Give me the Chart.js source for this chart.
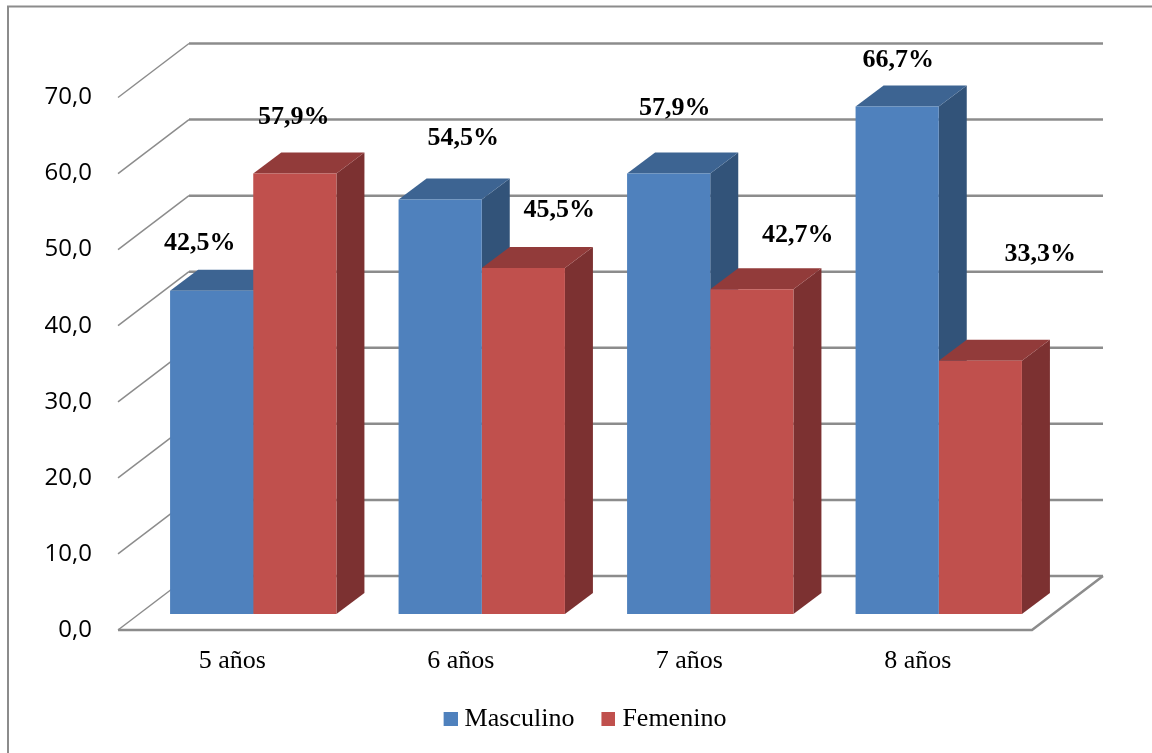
<!DOCTYPE html>
<html>
<head>
<meta charset="utf-8">
<script src="https://cdn.jsdelivr.net/npm/chart.js@4"></script>
<style>
    html, body { margin: 0; padding: 0; background: #FFFFFF; }
    #edades { display: block; }
</style>
</head>
<body>
<div style="width:1152px;height:753px;overflow:hidden">
    <canvas id="edades" width="1152" height="753"></canvas>
</div>
<script>
const categories = ['5 años', '6 años', '7 años', '8 años'];
const masculino = [42.5, 54.5, 57.9, 66.7];
const femenino = [57.9, 45.5, 42.7, 33.3];
const yTickLabels = ['0,0', '10,0', '20,0', '30,0', '40,0', '50,0', '60,0', '70,0'];

// label nudges from the top centre of each bar, the labels were placed by hand
const masculinoNudge = [[-12, -47], [23, -61], [6, -65], [1, -46]];
const femeninoNudge = [[-1, -56], [36, -58], [46, -54], [60, -106]];

const SERIF = '"Liberation Serif", "Times New Roman", serif';
const WALL = { dx: 71, dy: -54 };     // depth of the floor and side wall
const BAR_DEPTH = { dx: 28, dy: -21 };
const BAR_SHIFT = { dx: 21, dy: -16 }; // bars stand in the middle of the floor
const LINE = '#8C8C8C';

const shades = [
    { top: '#3D6492', side: '#325379' },
    { top: '#923B3A', side: '#7C3131' }
];

function poly(ctx, pts, color) {
    ctx.fillStyle = color;
    ctx.beginPath();
    pts.forEach((p, i) => i ? ctx.lineTo(p[0], p[1]) : ctx.moveTo(p[0], p[1]));
    ctx.closePath();
    ctx.fill();
}

function stroke(ctx, pts, width) {
    ctx.strokeStyle = LINE;
    ctx.lineWidth = width;
    ctx.beginPath();
    pts.forEach((p, i) => i ? ctx.lineTo(p[0], p[1]) : ctx.moveTo(p[0], p[1]));
    ctx.stroke();
}

// legend swatch, the extra blank width pulls the square closer to its text
function swatch(color) {
    const c = document.createElement('canvas');
    c.width = 26;
    c.height = 14;
    const g = c.getContext('2d');
    g.fillStyle = color;
    g.fillRect(12, 0, 14, 14);
    return c;
}

const bars3d = {
    id: 'bars3d',
    beforeDraw(chart) {
        const ctx = chart.ctx;
        stroke(ctx, [[8, 753], [8, 6.5], [1152, 6.5]], 2);
    },
    afterLayout(chart) {
        // the right padding keeps room for the floor depth, recentre the legend
        chart.legend.left += 132;
    },
    beforeDatasetsDraw(chart) {
        const ctx = chart.ctx;
        const { left, right } = chart.chartArea;
        const yScale = chart.scales.y;

        // side wall and back wall lines
        ctx.save();
        yScale.ticks.forEach((t) => {
            const y = yScale.getPixelForValue(t.value);
            stroke(ctx, [[left, y], [left + WALL.dx, y + WALL.dy]], 1.5);
            stroke(ctx, [[left + WALL.dx, y + WALL.dy], [right + WALL.dx, y + WALL.dy]], 2.5);
        });
        const y0 = yScale.getPixelForValue(0);
        stroke(ctx, [[left, y0], [right, y0], [right + WALL.dx, y0 + WALL.dy]], 2.5);
        ctx.restore();

        ctx.save();
        ctx.translate(BAR_SHIFT.dx, BAR_SHIFT.dy);

        // tops and sides first, masculino before femenino, the fronts go over them
        chart.data.datasets.forEach((ds, i) => {
            chart.getDatasetMeta(i).data.forEach((bar) => {
                const p = bar.getProps(['x', 'y', 'base', 'width'], true);
                const l = p.x - p.width / 2;
                const r = p.x + p.width / 2;
                const d = BAR_DEPTH;
                poly(ctx, [[r, p.y], [r + d.dx, p.y + d.dy], [r + d.dx, p.base + d.dy], [r, p.base]], shades[i].side);
                poly(ctx, [[l, p.y], [l + d.dx, p.y + d.dy], [r + d.dx, p.y + d.dy], [r, p.y]], shades[i].top);
            });
        });
    },
    afterDatasetsDraw(chart) {
        const ctx = chart.ctx;
        ctx.restore();

        const nudges = [masculinoNudge, femeninoNudge];
        ctx.save();
        ctx.font = 'bold 26px ' + SERIF;
        ctx.fillStyle = '#000000';
        ctx.textAlign = 'center';
        ctx.textBaseline = 'middle';
        chart.data.datasets.forEach((ds, i) => {
            chart.getDatasetMeta(i).data.forEach((bar, j) => {
                const p = bar.getProps(['x', 'y'], true);
                const text = ds.data[j].toFixed(1).replace('.', ',') + '%';
                ctx.fillText(text, p.x + BAR_SHIFT.dx + nudges[i][j][0], p.y + BAR_SHIFT.dy + nudges[i][j][1]);
            });
        });
        ctx.restore();
    }
};

new Chart(document.getElementById('edades'), {
    type: 'bar',
    data: {
        labels: categories,
        datasets: [
            { label: 'Masculino', data: masculino, backgroundColor: '#4F81BD', clip: false },
            { label: 'Femenino', data: femenino, backgroundColor: '#C0504D', clip: false }
        ]
    },
    plugins: [bars3d],
    options: {
        responsive: false,
        animation: false,
        events: [],
        barPercentage: 1,
        categoryPercentage: 0.728,
        layout: { padding: { top: 97.5, left: 0, right: 120, bottom: 11 } },
        scales: {
            x: {
                grid: { display: false },
                border: { display: false },
                ticks: {
                    color: '#000000',
                    padding: 7.5,
                    maxRotation: 0,
                    font: { family: SERIF, size: 26 }
                },
                afterFit(scale) { scale.height = 55; }
            },
            y: {
                min: 0,
                max: 70,
                grid: { display: false },
                border: { display: false },
                ticks: {
                    stepSize: 10,
                    color: '#000000',
                    padding: 18,
                    font: { family: '"Open Sans"', size: 24 },
                    callback: (value, index) => yTickLabels[index]
                },
                afterFit(scale) { scale.width = 118; }
            }
        },
        plugins: {
            tooltip: { enabled: false },
            legend: {
                position: 'bottom',
                labels: {
                    color: '#000000',
                    font: { family: SERIF, size: 26 },
                    padding: 21,
                    boxWidth: 14,
                    boxHeight: 14,
                    usePointStyle: true,
                    generateLabels(chart) {
                        return Chart.defaults.plugins.legend.labels.generateLabels(chart).map((item, i) => {
                            item.pointStyle = swatch(chart.data.datasets[i].backgroundColor);
                            return item;
                        });
                    }
                }
            }
        }
    }
});
</script>
</body>
</html>
